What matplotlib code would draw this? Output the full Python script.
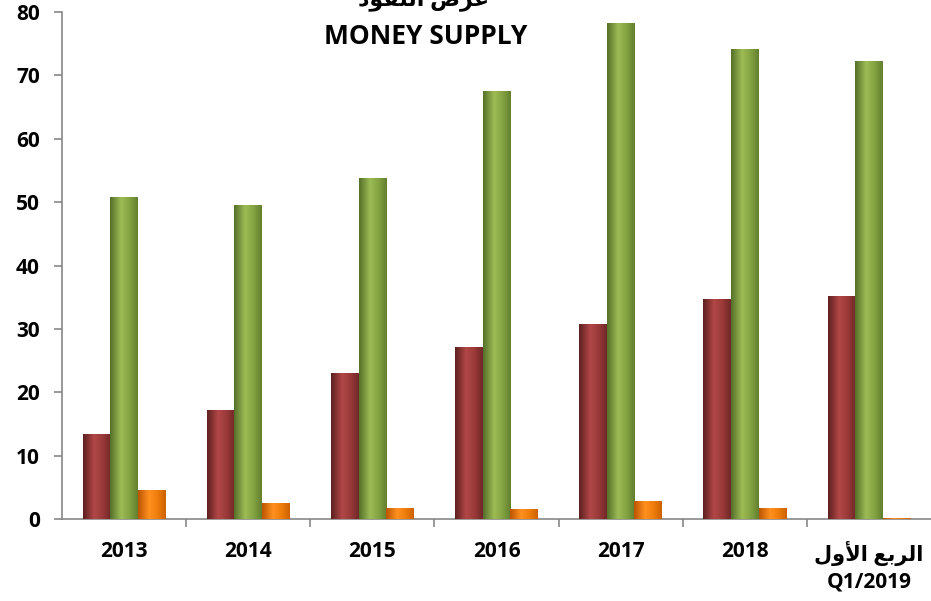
import numpy as np
import matplotlib
matplotlib.use("Agg")
import matplotlib.pyplot as plt

# categories and series
categories = ["2013", "2014", "2015", "2016", "2017", "2018",
              "\uFEDD\uFEED\uFEF7\uFE8D \uFECA\uFE91\uFEAE\uFEDF\uFE8D\nQ1/2019"]
series_red = [13.4, 17.2, 23.0, 27.1, 30.8, 34.7, 35.2]
series_green = [50.8, 49.5, 53.8, 67.5, 78.3, 74.2, 72.3]
series_orange = [4.6, 2.6, 1.7, 1.6, 2.8, 1.7, 0.15]
y_ticks = [0, 10, 20, 30, 40, 50, 60, 70, 80]

title_ar = "\uFEA9\uFEEE\uFED8\uFEE8\uFEDF\uFE8D \uFEBD\uFEAE\uFECB"
title_en = "MONEY SUPPLY"

fonts = ["Open Sans", "DejaVu Sans"]

fig = plt.figure(figsize=(9.31, 6.01), dpi=100)
ax = fig.add_axes([62 / 931, 1 - 519 / 601, 1 - 62 / 931, (519 - 12) / 601])

x = np.arange(len(categories))
w = 0.222

# cylinder-like shading: dark edge, highlight, dark edge
shades = {
    "red": ["#5e2020", "#b24747", "#9a3a39", "#722828"],
    "green": ["#55702a", "#9dbc55", "#84a442", "#62802f"],
    "orange": ["#bb5600", "#ff9020", "#f07d0c", "#cc6200"],
}


def shaded_bars(xpos, vals, key):
    bars = ax.bar(xpos, vals, w, color=shades[key][2], zorder=2)
    cmap = matplotlib.colors.LinearSegmentedColormap.from_list(
        key, list(zip([0, 0.4, 0.7, 1], shades[key])))
    grad = np.linspace(0, 1, 64).reshape(1, -1)
    for b in bars:
        h = b.get_height()
        if h <= 0:
            continue
        im = ax.imshow(grad, cmap=cmap, aspect="auto", zorder=3,
                       extent=[b.get_x(), b.get_x() + b.get_width(), 0, h])
        im.set_clip_path(b)
    return bars


shaded_bars(x - w, series_red, "red")
shaded_bars(x, series_green, "green")
shaded_bars(x + w, series_orange, "orange")

ax.set_xlim(-0.5, len(categories) - 0.5)
ax.set_ylim(0, 80)

for s in ["top", "right"]:
    ax.spines[s].set_visible(False)
for s in ["left", "bottom"]:
    ax.spines[s].set_color("#888888")
    ax.spines[s].set_linewidth(1.2)

ax.set_yticks(y_ticks)
ax.set_yticklabels([str(t) for t in y_ticks], fontsize=15, fontweight="bold",
                   family=fonts)
ax.tick_params(axis="y", length=6, color="#888888", width=1.2, pad=10)

ax.set_xticks(x)
ax.set_xticklabels(categories, fontsize=15, fontweight="bold", family=fonts,
                   linespacing=1.3)
ax.tick_params(axis="x", which="major", length=0, pad=16)
ax.set_xticks(np.arange(0.5, len(categories) - 1), minor=True)
ax.tick_params(axis="x", which="minor", length=6, color="#888888", width=1.2)

fig.text(0.455, 0.992, title_ar, ha="center", va="baseline", fontsize=16,
         fontweight="bold", family=fonts)
fig.text(0.457, 1 - 36 / 601, title_en, ha="center", va="center", fontsize=19,
         fontweight="bold", family=fonts)

fig.savefig("out.png", dpi=100)
